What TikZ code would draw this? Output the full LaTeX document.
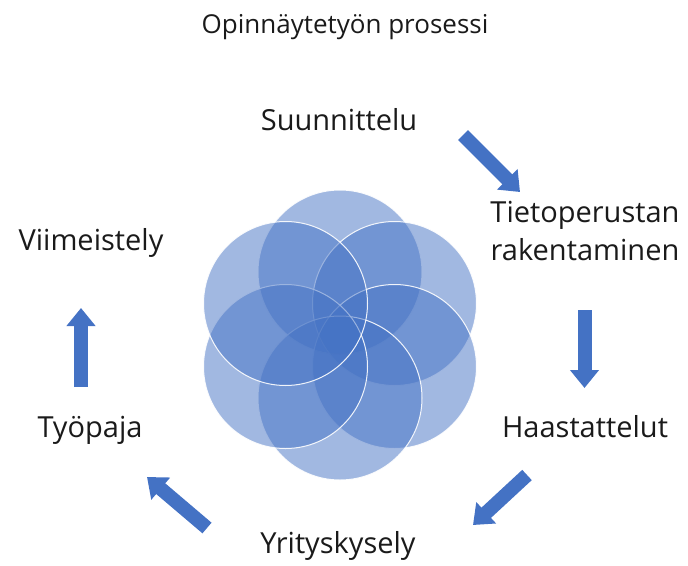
\documentclass[tikz,border=0pt]{standalone}
\usepackage{fontspec}
\setmainfont{Open Sans}
\usetikzlibrary{arrows.meta}
\definecolor{accblue}{HTML}{4472C4}
\definecolor{txtgray}{HTML}{1A1A1A}
\tikzset{
  petal/.style={fill=accblue, fill opacity=0.5, draw=white, draw opacity=0.9, line width=1pt},
  lbl/.style={font=\fontsize{29}{38}\selectfont, text=txtgray, anchor=base, inner sep=0pt},
  ttl/.style={font=\fontsize{26}{30}\selectfont, text=txtgray, anchor=base, inner sep=0pt},
  blockarr/.style={draw=accblue, line width=14pt, line cap=butt,
    -{Triangle[length=18pt, width=28pt]}}
}
\begin{document}
\begin{tikzpicture}[x=1pt, y=-1pt]
\useasboundingbox (0,0) rectangle (688,565);
% petals
\foreach \n/\cx/\cy in {p1/340/272, p2/394.5/303.5, p3/394.5/366.5, p4/340/398, p5/285.5/366.5, p6/285.5/303.5}{
  \path[petal] (\cx,\cy) circle[radius=82];
}
% title
\node[ttl] (title) at (345,33) {Opinnäytetyön prosessi};
% labels
\node[lbl] (suun) at (339,130) {Suunnittelu};
\node[lbl, align=center] (tieto) at (585,260) {Tietoperustan\\rakentaminen};
\node[lbl] (haas) at (585,437) {Haastattelut};
\node[lbl] (yrit) at (338,553) {Yrityskysely};
\node[lbl] (tyop) at (90,437) {Työpaja};
\node[lbl] (viim) at (91,250) {Viimeistely};
% arrow coordinates
\coordinate (a1s) at (463,135); \coordinate (a1e) at (520,192);
\coordinate (a2s) at (584.5,310); \coordinate (a2e) at (584.5,388);
\coordinate (a3s) at (527,475); \coordinate (a3e) at (473,525);
\coordinate (a4s) at (207,528); \coordinate (a4e) at (147,477);
\coordinate (a5s) at (81,387); \coordinate (a5e) at (81,308);
\draw[blockarr] (a1s) -- (a1e);
\draw[blockarr] (a2s) -- (a2e);
\draw[blockarr] (a3s) -- (a3e);
\draw[blockarr] (a4s) -- (a4e);
\draw[blockarr] (a5s) -- (a5e);
\end{tikzpicture}
\end{document}
